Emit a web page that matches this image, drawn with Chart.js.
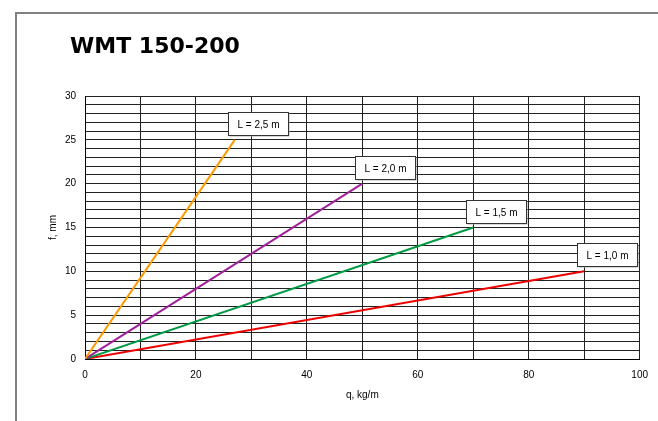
<!DOCTYPE html>
<html>
<head>
<meta charset="utf-8">
<script src="https://cdn.jsdelivr.net/npm/chart.js@4"></script>
<style>
  html, body { margin: 0; padding: 0; background: #fff; }
  #wrap { width: 658px; height: 421px; position: relative; }
</style>
</head>
<body>
<div id="wrap"><canvas id="deflection-chart" width="658" height="421"></canvas></div>
<script>
// deflection lines, each starts at origin and ends at (load, deflection)
const spanLabels = ['L = 2,5 m', 'L = 2,0 m', 'L = 1,5 m', 'L = 1,0 m'];
const endLoads = [27, 50, 70, 90];
const endDeflections = [25, 20, 15, 10];
const lineColors = ['#ff9900', '#a0209a', '#009944', '#ee0000'];

const xTicks = [0, 20, 40, 60, 80, 100];
const yTicks = [0, 5, 10, 15, 20, 25, 30];

const datasets = spanLabels.map((label, i) => ({
    label: label,
    data: [{ x: 0, y: 0 }, { x: endLoads[i], y: endDeflections[i] }],
    borderColor: lineColors[i],
    borderWidth: 2,
    pointRadius: 0,
    fill: false
}));

// frame, title and the little label boxes
const decorations = {
    id: 'decorations',
    beforeDraw(chart) {
        const ctx = chart.ctx;
        ctx.save();
        ctx.fillStyle = '#fff';
        ctx.fillRect(0, 0, chart.width, chart.height);
        ctx.strokeStyle = '#808080';
        ctx.lineWidth = 2;
        ctx.strokeRect(16, 13, 800, 600);
        ctx.fillStyle = '#000';
        ctx.font = 'bold 22px "DejaVu Sans"';
        ctx.textBaseline = 'alphabetic';
        ctx.fillText('WMT 150-200', 70, 53);
        ctx.restore();
    },
    afterDatasetsDraw(chart) {
        const ctx = chart.ctx;
        const xs = chart.scales.x, ys = chart.scales.y;
        ctx.save();
        ctx.font = '10px "Liberation Sans", Arial';
        ctx.textAlign = 'center';
        ctx.textBaseline = 'middle';
        spanLabels.forEach((label, i) => {
            const px = xs.getPixelForValue(endLoads[i]);
            const py = ys.getPixelForValue(endDeflections[i]);
            const w = 60, h = 23;
            const bx = Math.round(px - 7) + 0.5;
            const by = Math.round(py - 5 - h) + 0.5;
            ctx.fillStyle = '#b0b0b0';
            ctx.fillRect(bx + 1, by + 1, w, h);
            ctx.fillStyle = '#fff';
            ctx.fillRect(bx, by, w, h);
            ctx.strokeStyle = '#333';
            ctx.lineWidth = 1;
            ctx.strokeRect(bx, by, w, h);
            ctx.fillStyle = '#000';
            ctx.fillText(label, bx + w / 2, by + h / 2 + 1);
        });
        ctx.restore();
    }
};

new Chart(document.getElementById('deflection-chart').getContext('2d'), {
    type: 'line',
    data: { datasets: datasets },
    options: {
        responsive: false,
        animation: false,
        layout: { padding: { top: 96, right: 15, left: 0, bottom: 0 } },
        plugins: {
            legend: { display: false },
            tooltip: { enabled: false }
        },
        scales: {
            x: {
                type: 'linear',
                min: 0,
                max: 100,
                afterFit: scale => { scale.height = 62; },
                ticks: {
                    stepSize: 10,
                    autoSkip: false,
                    maxRotation: 0,
                    padding: 10,
                    color: '#000',
                    font: { family: '"Liberation Sans", Arial', size: 10 },
                    callback: v => xTicks.includes(v) ? v : ''
                },
                grid: { color: '#222', lineWidth: 1, drawTicks: false },
                border: { color: '#000', width: 1 },
                title: {
                    display: true,
                    text: 'q, kg/m',
                    color: '#000',
                    font: { family: '"Liberation Sans", Arial', size: 10 },
                    padding: { top: 0, bottom: 20 }
                }
            },
            y: {
                min: 0,
                max: 30,
                afterFit: scale => { scale.width = 85; },
                ticks: {
                    stepSize: 1,
                    maxTicksLimit: 31,
                    autoSkip: false,
                    padding: 9,
                    color: '#000',
                    font: { family: '"Liberation Sans", Arial', size: 10 },
                    callback: v => yTicks.includes(v) ? v : ''
                },
                grid: { color: '#222', lineWidth: 1, drawTicks: false },
                border: { color: '#000', width: 1 },
                title: {
                    display: true,
                    text: 'f, mm',
                    color: '#000',
                    font: { family: '"Liberation Sans", Arial', size: 10 },
                    padding: { top: 47, bottom: 0 }
                }
            }
        }
    },
    plugins: [decorations]
});
</script>
</body>
</html>
